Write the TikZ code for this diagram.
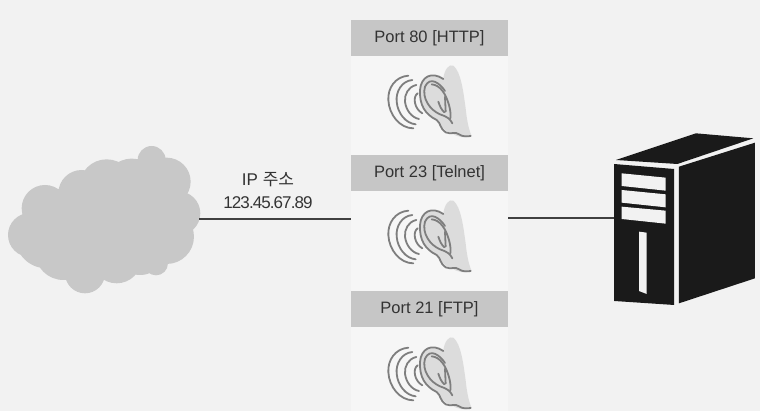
\documentclass[tikz,border=0pt]{standalone}
\usepackage{fontspec}
\setmainfont{Liberation Sans}
\newfontfamily\krfont{Noto Sans CJK KR}
\definecolor{bgc}{HTML}{F2F2F2}
\definecolor{panelc}{HTML}{F6F6F6}
\definecolor{headc}{HTML}{C6C6C6}
\definecolor{cloudc}{HTML}{C8C8C8}
\definecolor{earfill}{HTML}{DCDCDC}
\definecolor{earline}{HTML}{7E7E7E}
\definecolor{txt}{HTML}{333333}
\definecolor{serverc}{HTML}{1A1A1A}
\tikzset{
  x=1pt,y=-1pt,
  head/.style={fill=headc,draw=none,minimum width=157pt,minimum height=36pt,inner sep=0pt,text=txt,font=\fontsize{16.5}{17}\selectfont},
  lbl/.style={text=txt,inner sep=0pt,font=\fontsize{17}{18}\selectfont},
  wire/.style={draw=black!75,line width=1.1pt},
  earstroke/.style={draw=earline,line width=1.8pt,line cap=round,line join=round},
  serverpart/.style={fill=serverc,draw=none},
  slot/.style={fill=bgc,draw=none}
}
\newcommand{\earmark}[2]{%
\begin{scope}[shift={(#1,#2)},x=.3333pt,y=-.3333pt]
 \fill[earfill] (205,70) .. controls (208,45) and (222,25) .. (235,32) .. controls (258,50) and (265,110) .. (272,160) .. controls (276,200) and (282,225) .. (290,243) .. controls (270,252) and (245,245) .. (230,235) .. controls (195,222) and (198,205) .. (185,195) .. controls (150,178) and (133,150) .. (135,105) .. controls (138,65) and (170,48) .. (205,72) -- cycle;
 \draw[earstroke] (205,72) .. controls (170,48) and (138,65) .. (135,105) .. controls (133,150) and (150,178) .. (185,195) .. controls (198,205) and (195,222) .. (212,232) .. controls (230,240) and (240,228) .. (252,238) .. controls (262,245) and (275,245) .. (287,243);
 \draw[earstroke] (210,108) .. controls (195,85) and (165,62) .. (150,95) .. controls (140,130) and (165,165) .. (195,178) .. controls (215,185) and (225,190) .. (232,205);
 \draw[earstroke] (170,88) .. controls (195,90) and (212,115) .. (222,150) .. controls (226,165) and (228,180) .. (226,190);
 \draw[earstroke] (190,140) .. controls (195,155) and (200,165) .. (208,172);
 \draw[earstroke] (210,125) -- (212,170);
 \draw[earstroke] (100,62) .. controls (60,65) and (38,100) .. (40,135) .. controls (42,180) and (75,220) .. (115,220);
 \draw[earstroke] (112,75) .. controls (80,78) and (62,110) .. (65,140) .. controls (68,175) and (92,205) .. (122,208);
 \draw[earstroke] (124,90) .. controls (100,95) and (88,118) .. (90,140) .. controls (93,165) and (110,188) .. (132,192);
 \draw[earstroke] (128,115) .. controls (112,125) and (118,162) .. (142,175);
\end{scope}}
\begin{document}
\begin{tikzpicture}
\useasboundingbox (0,0) rectangle (760,411);
\fill[bgc] (0,0) rectangle (760,411);
% panels
\fill[panelc] (351,20) rectangle (508,411);
% cloud
\begin{scope}[shift={(0,130)},x=.3333pt,y=-.3333pt]
 \fill[cloudc] (455,90) circle[radius=42] (500,155) circle[radius=72] (320,170) circle[radius=82] (395,170) circle[radius=84]
  (245,190) circle[radius=70] (135,235) circle[radius=70] (90,315) circle[radius=66] (140,320) circle[radius=95]
  (535,250) circle[radius=66] (500,320) circle[radius=82] (255,430) circle[radius=60]
  (190,365) circle[radius=85] (350,385) circle[radius=75] (420,350) circle[radius=85] (468,400) circle[radius=36]
  (300,300) circle[radius=150] (420,280) circle[radius=130];
\end{scope}
\coordinate (cloudR) at (199,219);
\node[head] (h80) at (429.5,38) {Port 80 [HTTP]};
\node[head] (h23) at (429.5,173) {Port 23 [Telnet]};
\node[head] (h21) at (429.5,309) {Port 21 [FTP]};
\earmark{375}{55}
\earmark{375}{190}
\earmark{375}{327}
\coordinate (midL) at (351,219);
\coordinate (midR) at (508,218);
\coordinate (srv) at (614,218);
\draw[wire] (cloudR) -- (midL);
\draw[wire] (midR) -- (srv);
\node[lbl] (ipa) at (268,180) {IP {\krfont 주소}};
\node[lbl] (ipb) at (268,203) {\addfontfeature{LetterSpace=-5.4}123.45.67.89};
% server
\begin{scope}[shift={(590,120)},x=.3333pt,y=-.3333pt]
 \fill[serverpart] (78,120) -- (318,40) -- (490,55) -- (262,132) -- cycle;
 \fill[serverpart] (72,132) -- (252,147) -- (252,555) -- (72,543) -- cycle;
 \fill[serverpart] (267,140) -- (495,68) -- (495,475) -- (267,550) -- cycle;
 \fill[slot] (95,160) -- (227,173) -- (227,212) -- (95,198) -- cycle;
 \fill[slot] (95,210) -- (227,223) -- (227,262) -- (95,248) -- cycle;
 \fill[slot] (95,260) -- (227,272) -- (227,311) -- (95,297) -- cycle;
 \fill[slot] (147,335) -- (170,338) -- (170,522) -- (147,513) -- cycle;
\end{scope}
\end{tikzpicture}
\end{document}
